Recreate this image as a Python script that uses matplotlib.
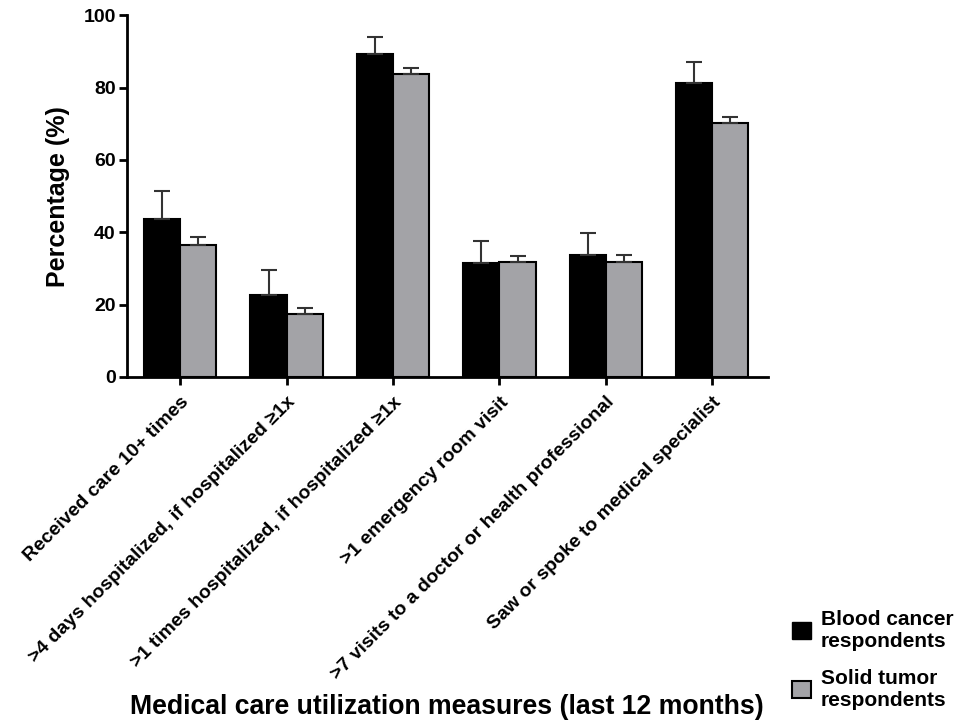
import numpy as np
import matplotlib.pyplot as plt
from matplotlib.patches import Patch

plt.rcParams['font.family'] = ['Liberation Sans', 'DejaVu Sans']
plt.rcParams['font.weight'] = 'bold'

categories = [
    "Received care 10+ times",
    ">4 days hospitalized, if hospitalized \u22651x",
    ">1 times hospitalized, if hospitalized \u22651x",
    ">1 emergency room visit",
    ">7 visits to a doctor or health professional",
    "Saw or spoke to medical specialist",
]
blood = [43.6, 22.8, 89.2, 31.4, 33.8, 81.2]
blood_err = [7.9, 6.7, 4.8, 6.1, 6.0, 6.0]
solid = [36.6, 17.4, 83.7, 31.9, 31.9, 70.1]
solid_err = [2.0, 1.8, 1.7, 1.6, 1.8, 1.7]

fig = plt.figure(figsize=(9.59, 7.24), dpi=100)
ax = fig.add_axes([0.1324, 0.4793, 0.668, 0.4997])

x = np.arange(len(categories))
w = 0.34
err_kw = dict(elinewidth=1.5, capsize=6, capthick=1.5, ecolor='#333333')
ax.bar(x - w / 2, blood, w, color='black', edgecolor='black', linewidth=1.5,
       yerr=[np.zeros(6), blood_err], error_kw=err_kw)
ax.bar(x + w / 2, solid, w, color='#a3a3a7', edgecolor='black', linewidth=1.5,
       yerr=[np.zeros(6), solid_err], error_kw=err_kw)

ax.set_xlim(-0.5, 5.52)
ax.set_ylim(0, 100)
ax.set_yticks([0, 20, 40, 60, 80, 100])
ax.set_xticks(x)
ax.set_xticklabels(categories, rotation=45, ha='right', rotation_mode='anchor', fontsize=14)
ax.tick_params(axis='y', labelsize=14, width=2, length=6, direction='out', pad=2)
ax.tick_params(axis='x', width=2, length=6, direction='out', pad=6)
for lbl in ax.get_xticklabels() + ax.get_yticklabels():
    lbl.set_fontweight('bold')

for side in ['top', 'right']:
    ax.spines[side].set_visible(False)
for side in ['left', 'bottom']:
    ax.spines[side].set_linewidth(2)

ax.set_ylabel('Percentage (%)', fontsize=18, fontweight='bold', labelpad=10)
fig.text(0.4656, 0.0135, 'Medical care utilization measures (last 12 months)',
         ha='center', va='baseline', fontsize=19.2, fontweight='bold')

handles = [Patch(facecolor='black', edgecolor='black', label='Blood cancer\nrespondents'),
           Patch(facecolor='#a3a3a7', edgecolor='black', linewidth=1.5, label='Solid tumor\nrespondents')]
fig.legend(handles=handles, loc='lower right', bbox_to_anchor=(1.014, -0.006), frameon=False,
           prop={'size': 15, 'weight': 'bold'}, handlelength=0.9, handleheight=0.9,
           handletextpad=0.5, labelspacing=0.85)

fig.savefig('out.png', dpi=100)
